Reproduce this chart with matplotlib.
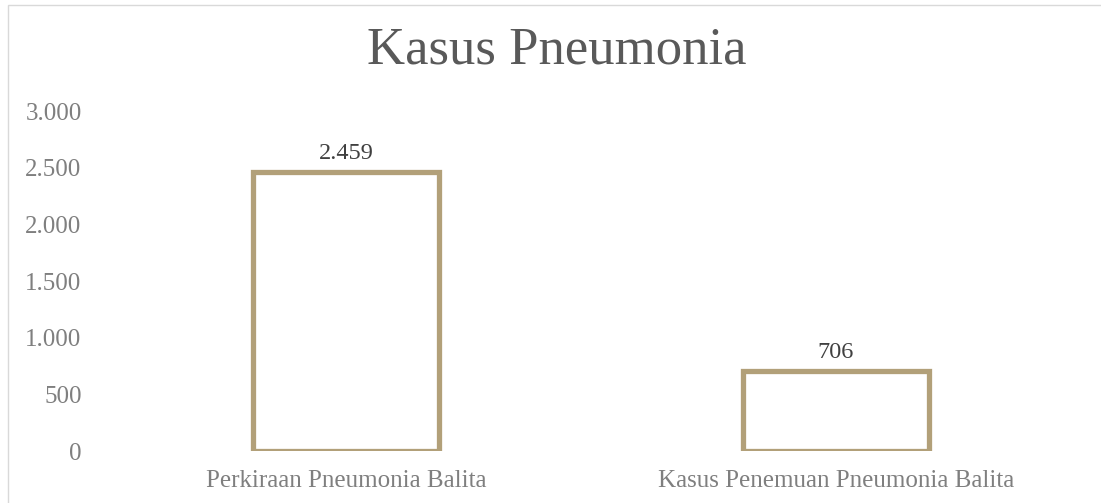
import matplotlib.pyplot as plt
from matplotlib.patches import Rectangle
from matplotlib.ticker import FuncFormatter

categories = ["Perkiraan Pneumonia Balita", "Kasus Penemuan Pneumonia Balita"]
values = [2459, 706]
yticks = [0, 500, 1000, 1500, 2000, 2500, 3000]

bar_color = "#B2A079"
tick_color = "#7F7F7F"
font = "Liberation Serif"


def dot_thousands(v, pos=None):
    return f"{int(v):,}".replace(",", ".")


fig = plt.figure(figsize=(11.01, 5.03), dpi=100)
ax = fig.add_axes([101 / 1101, 1 - 451 / 503, 980 / 1101, 340 / 503])

x = range(len(categories))
bars = ax.bar(x, values, width=0.38, facecolor="white", edgecolor=bar_color, linewidth=3.8)

for b, v in zip(bars, values):
    ax.annotate(dot_thousands(v), (b.get_x() + b.get_width() / 2, v),
                xytext=(0, 6), textcoords="offset points", ha="center", va="bottom",
                fontsize=17.5, color="#404040", family=font)

ax.set_xlim(-0.5, 1.5)
ax.set_ylim(0, 3000)
ax.set_yticks(yticks)
ax.yaxis.set_major_formatter(FuncFormatter(dot_thousands))
ax.set_xticks(list(x))
ax.set_xticklabels(categories)
ax.tick_params(axis="both", length=0, labelsize=18, labelcolor=tick_color)
ax.tick_params(axis="y", pad=14)
ax.tick_params(axis="x", pad=14)
for lbl in ax.get_xticklabels() + ax.get_yticklabels():
    lbl.set_family(font)
for s in ax.spines.values():
    s.set_visible(False)

fig.text(557 / 1101, 1 - 51 / 503, "Kasus Pneumonia", ha="center", va="center",
         fontsize=38, color="#595959", family=font)

# outer chart border
fig.patches.append(Rectangle((8 / 1101, -0.1), 1.2, 1 - 5 / 503 + 0.1,
                             transform=fig.transFigure, fill=False,
                             edgecolor="#D9D9D9", linewidth=1))

fig.savefig("out.png", dpi=100)
